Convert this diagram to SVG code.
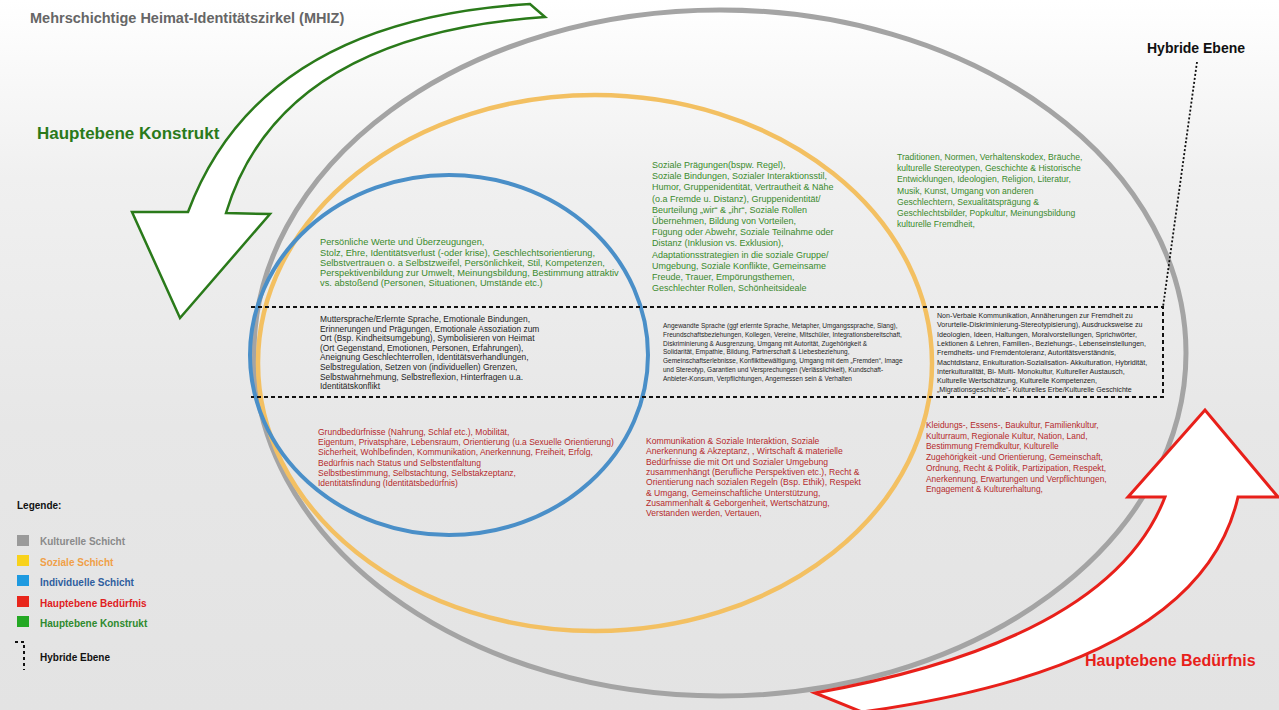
<svg xmlns="http://www.w3.org/2000/svg" width="1279" height="710" viewBox="0 0 1279 710">
<defs>
<linearGradient id="bg" x1="0" y1="0" x2="0" y2="1">
<stop offset="0" stop-color="#ffffff"/>
<stop offset="0.25" stop-color="#f0f0f0"/>
<stop offset="0.6" stop-color="#e7e7e7"/>
<stop offset="1" stop-color="#e3e3e3"/>
</linearGradient>
<style>
.t{font-family:"Liberation Sans",Arial,sans-serif}
.b{font-family:"Liberation Sans",Arial,sans-serif;font-weight:bold}
.g{fill:#3a8a2c}
.r{fill:#b52a2c}
.k{fill:#1e1e1e}
.lay{fill:none}
.dash{fill:none;stroke:#111;stroke-width:2;stroke-dasharray:4 3}
</style>
</defs>
<rect width="1279" height="710" fill="url(#bg)"/>

<g id="kulturelle-schicht"><ellipse class="lay" cx="720" cy="353" rx="466" ry="343" stroke="#a4a4a4" stroke-width="5"/></g>
<g id="soziale-schicht"><ellipse class="lay" cx="595" cy="363" rx="337" ry="268" stroke="#f3c062" stroke-width="4.5"/></g>
<g id="individuelle-schicht"><ellipse class="lay" cx="449" cy="355" rx="199" ry="180" stroke="#4a8fc8" stroke-width="4"/></g>

<g id="hybride-ebene-box"><path class="dash" d="M251,307 H1163 V397 H251"/></g>

<g id="title"><text class="b" x="30" y="23" font-size="14.5" fill="#666">Mehrschichtige Heimat-Identitätszirkel (MHIZ)</text></g>

<g id="arrow-konstrukt">
<path d="M530,4 Q260,20 188,212 L132,212 L180,318 L270,214 L226,213 Q280,35 545,17 Z" fill="#fff" stroke="#2a7a1a" stroke-width="2.5" stroke-linejoin="miter"/>
<text class="b" x="37" y="139" font-size="17" fill="#2a7a1a">Hauptebene Konstrukt</text>
</g>

<g id="arrow-beduerfnis">
<path d="M815,693 Q1110,640 1165,497 L1128,497 L1205,410 L1278,497 L1238,497 Q1200,665 862,712 Z" fill="#fff" stroke="#e8201a" stroke-width="3"/>
<text class="b" x="1085" y="666" font-size="16" fill="#e8201a">Hauptebene Bedürfnis</text>
</g>

<g id="hybride-label"><text class="b" x="1147" y="53" font-size="14" fill="#111">Hybride Ebene</text></g>

<g id="individuell-konstrukt" class="t g" font-size="9.25">
<text x="320" y="245">Persönliche Werte und Überzeugungen,</text>
<text x="320" y="255.5">Stolz, Ehre, Identitätsverlust (-oder krise), Geschlechtsorientierung,</text>
<text x="320" y="266">Selbstvertrauen o. a Selbstzweifel, Persönlichkeit, Stil, Kompetenzen,</text>
<text x="320" y="276">Perspektivenbildung zur Umwelt, Meinungsbildung, Bestimmung attraktiv</text>
<text x="320" y="286">vs. abstoßend (Personen, Situationen, Umstände etc.)</text>
</g>

<g id="individuell-hybrid" class="t k" font-size="8.4">
<text x="320" y="322">Muttersprache/Erlernte Sprache, Emotionale Bindungen,</text>
<text x="320" y="331.6">Erinnerungen und Prägungen, Emotionale Assoziation zum</text>
<text x="320" y="341.2">Ort (Bsp. Kindheitsumgebung), Symbolisieren von Heimat</text>
<text x="320" y="350.8">(Ort Gegenstand, Emotionen, Personen, Erfahrungen),</text>
<text x="320" y="360.4">Aneignung Geschlechterrollen, Identitätsverhandlungen,</text>
<text x="320" y="370">Selbstregulation, Setzen von (individuellen) Grenzen,</text>
<text x="320" y="379.6">Selbstwahrnehmung, Selbstreflexion, Hinterfragen u.a.</text>
<text x="320" y="389.2">Identitätskonflikt</text>
</g>

<g id="individuell-beduerfnis" class="t r" font-size="8.5">
<text x="318" y="435">Grundbedürfnisse (Nahrung, Schlaf etc.),  Mobilität,</text>
<text x="318" y="445.2">Eigentum, Privatsphäre, Lebensraum, Orientierung (u.a Sexuelle Orientierung)</text>
<text x="318" y="455.4">Sicherheit, Wohlbefinden, Kommunikation,  Anerkennung, Freiheit, Erfolg,</text>
<text x="318" y="465.6">Bedürfnis nach Status und Selbstentfaltung</text>
<text x="318" y="475.8">Selbstbestimmung, Selbstachtung, Selbstakzeptanz,</text>
<text x="318" y="486">Identitätsfindung (Identitätsbedürfnis)</text>
</g>

<g id="sozial-konstrukt" class="t g" font-size="9">
<text x="652" y="168">Soziale Prägungen(bspw. Regel),</text>
<text x="652" y="179.2">Soziale Bindungen, Sozialer Interaktionsstil,</text>
<text x="652" y="190.4">Humor, Gruppenidentität, Vertrautheit &amp; Nähe</text>
<text x="652" y="201.6">(o.a Fremde u. Distanz),  Gruppenidentität/</text>
<text x="652" y="212.8">Beurteilung „wir“ &amp; „ihr“, Soziale Rollen</text>
<text x="652" y="224">Übernehmen, Bildung von Vorteilen,</text>
<text x="652" y="235.2">Fügung oder Abwehr, Soziale Teilnahme oder</text>
<text x="652" y="246.4">Distanz (Inklusion vs. Exklusion),</text>
<text x="652" y="257.6">Adaptationsstrategien in die soziale Gruppe/</text>
<text x="652" y="268.8">Umgebung, Soziale Konflikte, Gemeinsame</text>
<text x="652" y="280">Freude, Trauer, Empörungsthemen,</text>
<text x="652" y="291.2">Geschlechter Rollen, Schönheitsideale</text>
</g>

<g id="sozial-hybrid" class="t k" font-size="6.5">
<text x="663" y="328">Angewandte Sprache (ggf erlernte Sprache, Metapher, Umgangssprache, Slang),</text>
<text x="663" y="336.8">Freundschaftsbeziehungen, Kollegen, Vereine, Mitschüler, Integrationsbereitschaft,</text>
<text x="663" y="345.6">Diskriminierung &amp; Ausgrenzung,  Umgang mit Autorität, Zugehörigkeit &amp;</text>
<text x="663" y="354.4">Solidarität, Empathie, Bildung, Partnerschaft &amp; Liebesbeziehung,</text>
<text x="663" y="363.2">Gemeinschaftserlebnisse, Konfliktbewältigung, Umgang mit dem „Fremden“, Image</text>
<text x="663" y="372">und Stereotyp, Garantien und Versprechungen (Verlässlichkeit), Kundschaft-</text>
<text x="663" y="380.8">Anbieter-Konsum, Verpflichtungen, Angemessen sein &amp; Verhalten</text>
</g>

<g id="sozial-beduerfnis" class="t r" font-size="8.6">
<text x="646" y="444">Kommunikation &amp; Soziale Interaktion, Soziale</text>
<text x="646" y="454.3">Anerkennung &amp; Akzeptanz, , Wirtschaft &amp; materielle</text>
<text x="646" y="464.6">Bedürfnisse die mit Ort und Sozialer Umgebung</text>
<text x="646" y="474.9">zusammenhängt (Berufliche Perspektiven etc.), Recht &amp;</text>
<text x="646" y="485.2">Orientierung nach sozialen Regeln (Bsp. Ethik), Respekt</text>
<text x="646" y="495.5">&amp; Umgang, Gemeinschaftliche Unterstützung,</text>
<text x="646" y="505.8">Zusammenhalt &amp; Geborgenheit, Wertschätzung,</text>
<text x="646" y="516.1">Verstanden werden, Vertauen,</text>
</g>

<g id="kulturell-konstrukt" class="t g" font-size="8.6">
<text x="897" y="160">Traditionen, Normen, Verhaltenskodex, Bräuche,</text>
<text x="897" y="171.2">kulturelle Stereotypen, Geschichte &amp; Historische</text>
<text x="897" y="182.4">Entwicklungen, Ideologien, Religion, Literatur,</text>
<text x="897" y="193.6">Musik, Kunst, Umgang von anderen</text>
<text x="897" y="204.8">Geschlechtern, Sexualitätsprägung &amp;</text>
<text x="897" y="216">Geschlechtsbilder, Popkultur, Meinungsbildung</text>
<text x="897" y="227.2">kulturelle Fremdheit,</text>
</g>

<g id="kulturell-hybrid" class="t k" font-size="7.1">
<text x="937" y="318">Non-Verbale Kommunikation,  Annäherungen zur Fremdheit zu</text>
<text x="937" y="327.3">Vorurteile-Diskriminierung-Stereotypisierung),  Ausdrucksweise zu</text>
<text x="937" y="336.6">Ideologien, Ideen, Haltungen, Moralvorstellungen, Sprichwörter,</text>
<text x="937" y="345.9">Lektionen &amp; Lehren, Familien-, Beziehungs-, Lebenseinstellungen,</text>
<text x="937" y="355.2">Fremdheits- und Fremdentoleranz, Autoritätsverständnis,</text>
<text x="937" y="364.5">Machtdistanz, Enkulturation-Sozialisation- Akkulturation, Hybridität,</text>
<text x="937" y="373.8">Interkulturalität, Bi- Multi- Monokultur, Kultureller Austausch,</text>
<text x="937" y="383.1">Kulturelle Wertschätzung, Kulturelle Kompetenzen,</text>
<text x="937" y="392.4">„Migrationsgeschichte“- Kulturelles Erbe/Kulturelle Geschichte</text>
</g>

<g id="kulturell-beduerfnis" class="t r" font-size="8.4">
<text x="926" y="428">Kleidungs-, Essens-, Baukultur, Familienkultur,</text>
<text x="926" y="438.7">Kulturraum, Regionale Kultur, Nation, Land,</text>
<text x="926" y="449.4">Bestimmung Fremdkultur, Kulturelle</text>
<text x="926" y="460.1">Zugehörigkeit -und Orientierung, Gemeinschaft,</text>
<text x="926" y="470.8">Ordnung, Recht &amp; Politik, Partizipation, Respekt,</text>
<text x="926" y="481.5">Anerkennung, Erwartungen und Verpflichtungen,</text>
<text x="926" y="492.2">Engagement &amp; Kulturerhaltung,</text>
</g>

<g id="connectors">
<path d="M1197,62 L1163,307" fill="none" stroke="#111" stroke-width="1.8" stroke-dasharray="2 2"/>
</g>

<g id="legend">
<text class="b" x="17" y="509" font-size="10" fill="#111">Legende:</text>
<rect x="17" y="535" width="12" height="11" fill="#9a9a9a"/>
<text class="b" x="40" y="545" font-size="10" fill="#8a8a8a">Kulturelle Schicht</text>
<rect x="17" y="555" width="12" height="11" fill="#f8d21c"/>
<text class="b" x="40" y="566" font-size="10" fill="#f0a048">Soziale Schicht</text>
<rect x="17" y="575" width="12" height="11" fill="#1e9ae0"/>
<text class="b" x="40" y="586" font-size="10" fill="#2f5e9e">Individuelle Schicht</text>
<rect x="17" y="596" width="12" height="11" fill="#e8261c"/>
<text class="b" x="40" y="607" font-size="10" fill="#e0201e">Hauptebene Bedürfnis</text>
<rect x="17" y="616" width="12" height="11" fill="#24a824"/>
<text class="b" x="40" y="627" font-size="10" fill="#2e8a2e">Hauptebene Konstrukt</text>
<path d="M15,642 H24 V670" fill="none" stroke="#111" stroke-width="2" stroke-dasharray="3 3"/>
<text class="b" x="40" y="661" font-size="10" fill="#111">Hybride Ebene</text>
</g>
</svg>
